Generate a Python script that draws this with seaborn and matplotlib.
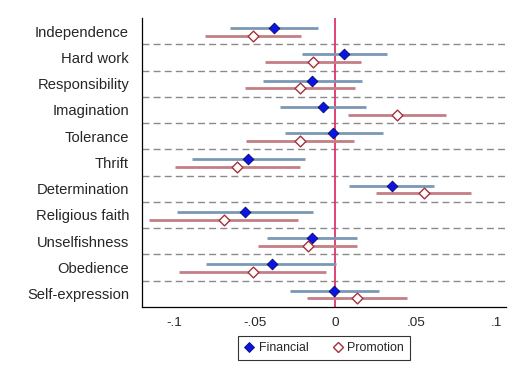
import pandas as pd
import numpy as np
import matplotlib
matplotlib.use("Agg")
import matplotlib.pyplot as plt
import seaborn as sns
from matplotlib.lines import Line2D

# Values in the order shown, top to bottom
values = ['Independence', 'Hard work', 'Responsibility', 'Imagination', 'Tolerance',
          'Thrift', 'Determination', 'Religious faith', 'Unselfishness', 'Obedience',
          'Self-expression']

fin_est = [-0.038, 0.0056, -0.0143, -0.0077, -0.0012, -0.054, 0.0349, -0.0558, -0.0143, -0.0395, -0.0006]
fin_lo = [-0.065, -0.0207, -0.0449, -0.0343, -0.0314, -0.0887, 0.0082, -0.0982, -0.0422, -0.0804, -0.0279]
fin_hi = [-0.011, 0.032, 0.0165, 0.0192, 0.0293, -0.0188, 0.0611, -0.0139, 0.0134, 0.0002, 0.027]

prom_est = [-0.051, -0.0139, -0.0221, 0.0382, -0.0217, -0.0606, 0.0547, -0.0692, -0.0172, -0.051, 0.0136]
prom_lo = [-0.081, -0.0436, -0.056, 0.008, -0.0552, -0.0994, 0.0254, -0.1151, -0.0476, -0.097, -0.0174]
prom_hi = [-0.021, 0.016, 0.012, 0.0686, 0.0118, -0.0217, 0.0841, -0.0232, 0.0136, -0.0056, 0.0444]

xticks = [-0.1, -0.05, 0, 0.05, 0.1]
xticklabels = ['-.1', '-.05', '0', '.05', '.1']

FIN_LINE = '#7a98b3'
PROM_LINE = '#c47f86'
FIN_MARK = '#0a14e6'
PROM_EDGE = '#a3323c'

sns.set_style("white")
plt.rcParams['font.family'] = ['Liberation Sans', 'DejaVu Sans']

pos = np.arange(len(values))
df = pd.concat([
    pd.DataFrame({'value': values, 'y': pos - 0.12, 'est': fin_est,
                  'lo': fin_lo, 'hi': fin_hi, 'group': 'Financial'}),
    pd.DataFrame({'value': values, 'y': pos + 0.18, 'est': prom_est,
                  'lo': prom_lo, 'hi': prom_hi, 'group': 'Promotion'}),
])

fig = plt.figure(figsize=(5.13, 3.77), dpi=100)
ax = fig.add_axes([0.276, 0.186, 0.71, 0.766])

# separators between rows
for b in pos[:-1] + 0.5:
    ax.axhline(b, color='#8a8a8a', lw=1.0, ls=(0, (5, 3)), zorder=1)

ax.axvline(0, color='#e0336b', lw=1.3, zorder=2)

fin = df[df['group'] == 'Financial']
prom = df[df['group'] == 'Promotion']
ax.hlines(fin['y'], fin['lo'], fin['hi'], color=FIN_LINE, lw=2.0, zorder=3)
ax.hlines(prom['y'], prom['lo'], prom['hi'], color=PROM_LINE, lw=2.0, zorder=3)

sns.scatterplot(data=fin, x='est', y='y', marker='D', s=30, color=FIN_MARK,
                edgecolor='#0a0a60', linewidth=0.6, zorder=4, ax=ax, legend=False)
sns.scatterplot(data=prom, x='est', y='y', marker='D', s=30, facecolor='white',
                edgecolor=PROM_EDGE, linewidth=1.0, zorder=4, ax=ax, legend=False)

ax.set_xlim(-0.12, 0.1056)
ax.set_ylim(len(values) - 0.5, -0.5)
ax.set_yticks(pos)
ax.set_yticklabels(values, fontsize=10.6)
ax.set_xticks(xticks)
ax.set_xticklabels(xticklabels, fontsize=9.7)
ax.tick_params(axis='y', length=0, pad=9)
ax.tick_params(axis='x', length=4, width=0.8, color='black', direction='out', pad=3)
ax.set_xlabel('')
ax.set_ylabel('')

sns.despine(ax=ax, top=True, right=True)
ax.spines['left'].set_color('black')
ax.spines['bottom'].set_color('black')
ax.spines['left'].set_linewidth(0.9)
ax.spines['bottom'].set_linewidth(0.9)

handles = [
    Line2D([], [], ls='', marker='D', markersize=5.5, markerfacecolor=FIN_MARK,
           markeredgecolor='#0a0a60', markeredgewidth=0.6),
    Line2D([], [], ls='', marker='D', markersize=5.5, markerfacecolor='white',
           markeredgecolor=PROM_EDGE, markeredgewidth=1.0),
]
leg = fig.legend(handles, ['Financial', 'Promotion'], loc='center',
                 bbox_to_anchor=(0.631, 0.077), ncol=2, frameon=True,
                 fancybox=False, fontsize=8.9, handletextpad=0.3,
                 columnspacing=1.8, handlelength=1.0, borderpad=0.45)
leg.get_frame().set_edgecolor('black')
leg.get_frame().set_linewidth(0.8)

fig.savefig('out.png', dpi=100)
